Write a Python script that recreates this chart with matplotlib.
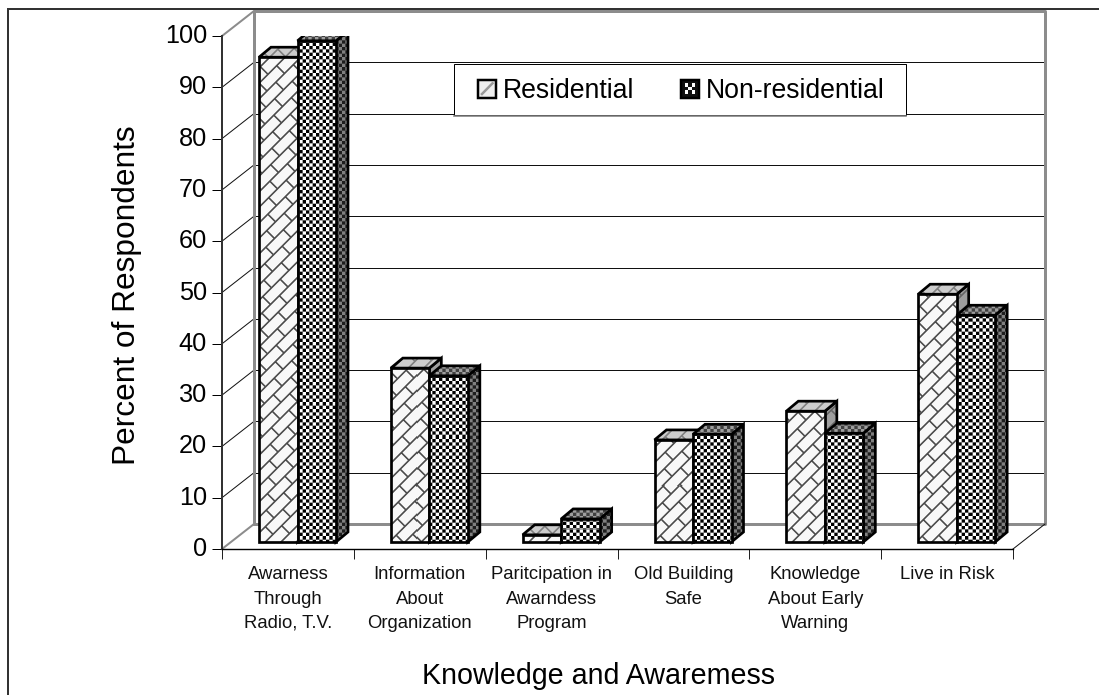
#%% Import Modules
import numpy as np
import matplotlib
matplotlib.use("Agg")
import matplotlib.pyplot as plt
from matplotlib.legend_handler import HandlerBase
from matplotlib.lines import Line2D
from matplotlib.patches import Patch, Polygon, Rectangle
from matplotlib.transforms import IdentityTransform

#%% Data
categories = ["Awarness\nThrough\nRadio, T.V.", "Information\nAbout\nOrganization",
              "Paritcipation in\nAwarndess\nProgram", "Old Building\nSafe",
              "Knowledge\nAbout Early\nWarning", "Live in Risk"]
residential = [94.5, 33.9, 1.4, 19.9, 25.5, 48.3]
non_residential = [97.7, 32.4, 4.5, 21.0, 21.2, 44.2]
y_ticks = [0, 10, 20, 30, 40, 50, 60, 70, 80, 90, 100]

#%% Layout constants (x in category units, y in percent)
W, H = 1099, 695
PX = 1 / 131.83       # one pixel along x
PY = 1 / 5.13         # one pixel along y
WALL_DX, WALL_DY = 32 * PX, 25 * PY
BAR_START = 37 * PX
BAR_W = 38.5 * PX
BAR_LIFT = 7 * PY
SIDE_DX, SIDE_DY = 12 * PX, 10 * PY
LW = 0.72             # one pixel line

plt.rcParams["font.family"] = ["Liberation Sans", "DejaVu Sans"]

#%% Fill patterns, built on a pixel grid the size of the figure
def smooth(a):
    # 3x supersampled back down to the figure grid
    return a.reshape(H, 3, W, 3).mean(axis=(1, 3))

yy, xx = np.mgrid[0:H * 3, 0:W * 3] / 3.0

def brick(light, line):
    u = xx + yy
    v = xx - yy
    row = np.floor(u / 15.5)
    lines = (u % 15.5 < 2.2) | ((v + row * 17.5) % 35.0 < 2.2)
    return smooth(np.where(lines, line, light))

def checker(light, dark):
    c = 3.35
    mask = (np.floor(xx / c) + np.floor(yy / c)) % 2 == 0
    return smooth(np.where(mask, dark, light))

textures = {
    "res_front": brick(0.97, 0.3), "res_top": brick(0.8, 0.5), "res_side": brick(0.62, 0.4),
    "non_front": checker(1.0, 0.0), "non_top": checker(0.62, 0.25), "non_side": checker(0.5, 0.12),
}

#%% Figure and axes
fig = plt.figure(figsize=(W / 100, H / 100), dpi=100)
ax = fig.add_axes([222 / W, 1 - 549 / H, 791 / W, 513 / H])
ax.autoscale(False)
ax.set_xlim(0, 6)
ax.set_ylim(0, 100)
ax.patch.set_visible(False)

def textured(face, tex, z):
    # paint a pattern inside a patch, then the outline on top
    face.set_zorder(z)
    face.set_facecolor("none")
    face.set_edgecolor("black")
    face.set_linewidth(2.7 * LW)
    face.set_joinstyle("miter")
    im = ax.imshow(textures[tex], cmap="gray", vmin=0, vmax=1, origin="lower",
                   extent=(0, W, H, 0), transform=IdentityTransform(),
                   aspect="auto", interpolation="nearest", zorder=z - 0.01)
    im.set_clip_path(face)

def draw_bar(x, value, prefix, z):
    bottom = BAR_LIFT
    top = bottom + value
    front = ax.bar(x, value, width=BAR_W, bottom=bottom, align="edge")[0]
    textured(front, prefix + "_front", z + 0.3)
    cap = Polygon([(x, top), (x + SIDE_DX, top + SIDE_DY),
                   (x + BAR_W + SIDE_DX, top + SIDE_DY), (x + BAR_W, top)])
    ax.add_patch(cap)
    textured(cap, prefix + "_top", z + 0.2)
    side = Polygon([(x + BAR_W, bottom), (x + BAR_W + SIDE_DX, bottom + SIDE_DY),
                    (x + BAR_W + SIDE_DX, top + SIDE_DY), (x + BAR_W, top)])
    ax.add_patch(side)
    textured(side, prefix + "_side", z + 0.1)

#%% Walls and gridlines
for v in y_ticks[1:-1]:
    ax.plot([WALL_DX, 6 + WALL_DX], [v + WALL_DY, v + WALL_DY], color="#111111",
            lw=LW, clip_on=False, zorder=1)
    ax.plot([0, WALL_DX], [v, v + WALL_DY], color="#111111", lw=LW, clip_on=False, zorder=1)

wall_x = [WALL_DX, WALL_DX, 6 + WALL_DX, 6 + WALL_DX, WALL_DX]
wall_y = [WALL_DY, 100 + WALL_DY, 100 + WALL_DY, WALL_DY, WALL_DY]
ax.plot(wall_x, wall_y, color="#8c8c8c", lw=3 * LW, clip_on=False, zorder=1.5)
ax.plot([0, WALL_DX], [100, 100 + WALL_DY], color="#8c8c8c", lw=2 * LW, clip_on=False, zorder=1.5)
ax.plot([0, WALL_DX], [0, WALL_DY], color="#8c8c8c", lw=2 * LW, clip_on=False, zorder=1.5)
ax.plot([6, 6 + WALL_DX], [0, WALL_DY], color="#111111", lw=LW, clip_on=False, zorder=1.5)

#%% Bars
for i in range(len(categories)):
    draw_bar(i + BAR_START, residential[i], "res", 2 + i)
    draw_bar(i + BAR_START + BAR_W, non_residential[i], "non", 2.5 + i)

#%% Axes, ticks and labels
for name in ["top", "right"]:
    ax.spines[name].set_visible(False)
ax.spines["left"].set_color("#333333")
ax.spines["left"].set_linewidth(2 * LW)
ax.spines["bottom"].set_color("black")
ax.spines["bottom"].set_linewidth(LW * 1.4)
ax.set_yticks(y_ticks)
ax.tick_params(axis="y", labelsize=18.2, length=7.2, width=LW, pad=3.6)
for label in ax.get_yticklabels():
    label.set_y(label.get_position()[1])
    label.set_verticalalignment("center")
ax.set_xticks(np.arange(7))
ax.set_xticklabels([])
ax.tick_params(axis="x", which="major", length=7.2, width=LW, color="#222222")
ax.set_xticks(np.arange(6) + 0.5, categories, minor=True, fontsize=13.3,
              linespacing=1.55, color="#111111")
ax.tick_params(axis="x", which="minor", length=0, pad=12.5)
fig.text(598 / W, 1 - 676 / H, "Knowledge and Awaremess", fontsize=20.6,
         ha="center", va="center")
fig.text(127 / W, 1 - 295 / H, "Percent of Respondents", fontsize=22.8,
         rotation=90, ha="center", va="center")

#%% Legend
class KeyHandler(HandlerBase):
    def create_artists(self, legend, orig, xd, yd, w, h, fontsize, trans):
        x, y = -xd, -yd
        box = Rectangle((x, y), w, h, fc=orig.get_facecolor(), ec="black",
                        lw=2.5 * LW, transform=trans)
        artists = [box]
        if orig.get_label() == "Residential":
            artists.append(Line2D([x + 0.2 * w, x + 0.8 * w], [y + 0.2 * h, y + 0.8 * h],
                                  color="#999999", lw=2.5 * LW, transform=trans))
        else:
            for fx, fy in [(0.3, 0.3), (0.7, 0.3), (0.5, 0.5), (0.3, 0.7), (0.7, 0.7)]:
                artists.append(Rectangle((x + (fx - 0.1) * w, y + (fy - 0.1) * h), 0.2 * w, 0.2 * h,
                                         fc="white", ec="none", transform=trans))
        return artists

fig.add_artist(Rectangle((453.5 / W, 1 - 115 / H), 452.5 / W, 51 / H, fc="white", ec="black",
                         lw=LW, transform=fig.transFigure, zorder=18))
fig.add_artist(Line2D([453.5 / W, 906 / W], [1 - 115.5 / H, 1 - 115.5 / H], color="#808080", lw=1.6 * LW, zorder=18))

leg = fig.legend(handles=[Patch(fc="#eeeeee", label="Residential"),
                          Patch(fc="#111111", label="Non-residential")],
                 handler_map={Patch: KeyHandler()}, ncol=2, loc="center",
                 bbox_to_anchor=(681.5 / W, 1 - 91 / H), fontsize=19.2, frameon=False,
                 borderpad=0, handlelength=0.66, handleheight=0.66, handletextpad=0.26,
                 columnspacing=1.76)
leg.set_zorder(20)

#%% Outer frame
for xs, ys in [([7.5, W], [8.5, 8.5]), ([7.5, 7.5], [8.5, H])]:
    fig.add_artist(Line2D(np.array(xs) / W, 1 - np.array(ys) / H, color="#333333", lw=2 * LW))

plt.savefig("out.png", dpi=100)
